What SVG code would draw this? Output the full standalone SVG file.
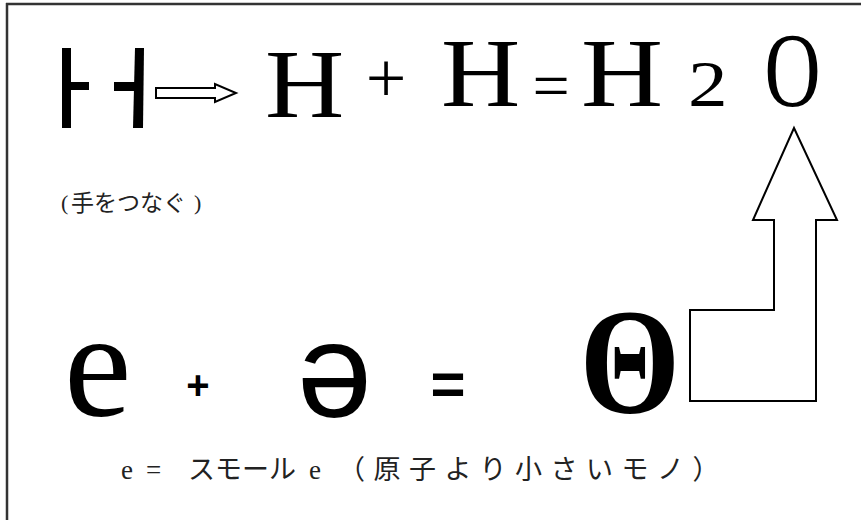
<svg xmlns="http://www.w3.org/2000/svg" width="861" height="520" viewBox="0 0 861 520">
<style>
text.serif{font-family:'Liberation Serif','Times New Roman','DejaVu Serif',serif;fill:#000}
text.sans{font-family:'Liberation Sans',Arial,'DejaVu Sans',sans-serif;fill:#000}
text.jp{font-family:'Liberation Serif','Noto Sans CJK JP',serif;fill:#222}
.hollow{fill:#fff;stroke:#000;stroke-width:2;stroke-linejoin:miter}
.bar{fill:#000}
</style>
<rect x="0" y="0" width="861" height="520" fill="#fff"/>
<g id="frame" fill="none" stroke="#333" stroke-width="2.5">
<line x1="6" y1="4" x2="861" y2="4"/>
<line x1="7" y1="3" x2="7" y2="520"/>
</g>
<g id="split-h">
<rect class="bar" x="62" y="48" width="9" height="80"/>
<rect class="bar" x="71" y="82" width="18" height="8"/>
<rect class="bar" x="114" y="82" width="21" height="9"/>
<polygon class="bar" points="135,48 144,48 143,128 133,128"/>
</g>
<g id="equation-top">
<text class="serif" font-size="98" transform="translate(265,117) scale(1.12,1)">H</text>
<text class="serif" x="386" y="102" font-size="72" text-anchor="middle">+</text>
<text class="serif" font-size="98" transform="translate(441,106) scale(1.12,1)">H</text>
<text class="serif" x="551" y="108" font-size="66" text-anchor="middle">=</text>
<text class="serif" font-size="98" transform="translate(581,106) scale(1.16,1)">H</text>
<text class="serif" font-size="65" transform="translate(688,106) scale(1.22,1)">2</text>
<text class="serif" font-size="105" transform="translate(764.5,106) scale(0.74,1)">O</text>
</g>
<g id="caption-hands">
<text class="serif" x="61" y="210" font-size="22" style="fill:#222">(</text>
<text class="jp" x="71" y="211" font-size="23">手をつなぐ</text>
<text class="serif" x="194" y="210" font-size="22" style="fill:#222">)</text>
</g>
<g id="equation-bottom">
<text class="serif" x="64" y="416" font-size="152">e</text>
<text class="sans" x="198" y="399" font-size="40" font-weight="bold" text-anchor="middle">+</text>
<text class="sans" x="297" y="417" font-size="135">ə</text>
<text class="sans" x="448" y="404" font-size="60" font-weight="bold" text-anchor="middle">=</text>
<text class="serif" font-size="150" font-weight="bold" text-anchor="middle" transform="translate(630,413) scale(0.86,1)">Θ</text>
</g>
<g id="caption-bottom">
<text class="jp" y="479" font-size="27"><tspan x="121">e</tspan><tspan x="146">=</tspan><tspan x="188">スモール</tspan><tspan x="309">e</tspan><tspan x="338" letter-spacing="8.5">（原子より小さいモノ）</tspan></text>
</g>
<g id="connectors">
<path class="hollow" d="M156,88 L215,88 L215,84 L236,93 L215,102 L215,98 L156,98 Z"/>
<path class="hollow" d="M794,128 L837,220 L816,220 L816,401 L690,401 L690,310 L774,310 L774,220 L753,220 Z"/>
</g>
</svg>
